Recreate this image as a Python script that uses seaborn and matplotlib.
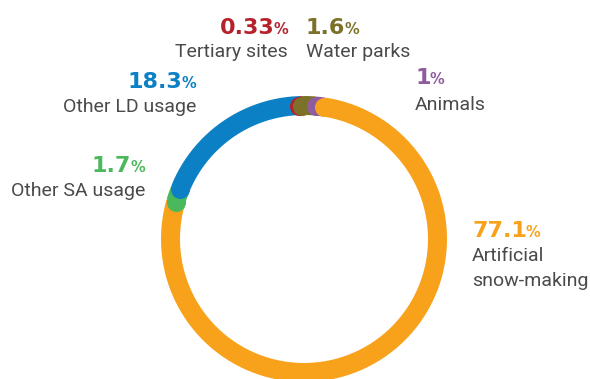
import numpy as np
import matplotlib
matplotlib.use("Agg")
import matplotlib.pyplot as plt
import seaborn as sns

# Water use by category, in percent
categories = ["Tertiary sites", "Water parks", "Animals",
              "Artificial\nsnow-making", "Other SA usage", "Other LD usage"]
shares = [0.33, 1.6, 1.0, 77.1, 1.7, 18.3]
share_labels = ["0.33", "1.6", "1", "77.1", "1.7", "18.3"]
colors = ["#b5222b", "#7b7128", "#8f5c9e", "#f8a11b", "#4cb85c", "#0b80c4"]

sns.set_theme(style="white")
plt.rcParams["font.family"] = ["Roboto", "DejaVu Sans"]

W, H = 590, 379
fig = plt.figure(figsize=(W / 100, H / 100), dpi=100)

# ring geometry in pixels (origin top-left)
cx, cy = 304, 239
rmax = 150
ax = fig.add_axes([(cx - rmax) / W, (H - cy - rmax) / H, 2 * rmax / W, 2 * rmax / H],
                  projection="polar")
ax.set_theta_zero_location("N")
ax.set_theta_direction(-1)
ax.set_ylim(0, rmax)
ax.set_axis_off()

r_mid = 133.5
band_pt = 19 * 72 / 100
start = np.deg2rad(-2.0)
frac = np.array(shares) / sum(shares)
edges = start + 2 * np.pi * np.concatenate([[0], np.cumsum(frac)])

for c, a0, a1 in zip(colors, edges[:-1], edges[1:]):
    t = np.linspace(a0, a1, 300)
    ax.plot(t, np.full_like(t, r_mid), color=c, lw=band_pt,
            solid_capstyle="butt", clip_on=False)
# rounded start caps, each laid over the end of the previous segment
for c, a0 in zip(colors, edges[:-1]):
    ax.plot([a0], [r_mid], "o", color=c, ms=band_pt, mew=0, clip_on=False)

renderer = fig.canvas.get_renderer()
text_color = "#4a4a4a"
num_kw = dict(family=["DejaVu Sans"], weight="bold", fontsize=16, va="baseline")
pct_kw = dict(family=["DejaVu Sans"], weight="bold", fontsize=10.5, va="baseline")
lab_kw = dict(fontsize=14, color=text_color, va="baseline")


def fx(x):
    return x / W


def fy(y):
    return 1 - y / H


def share_text(x, y, num, color, ha):
    if ha == "right":
        p = fig.text(fx(x), fy(y), "%", ha="right", color=color, **pct_kw)
        bb = p.get_window_extent(renderer)
        fig.text(fx(bb.x0 + 1), fy(y), num, ha="right", color=color, **num_kw)
    else:
        n = fig.text(fx(x), fy(y), num, ha="left", color=color, **num_kw)
        bb = n.get_window_extent(renderer)
        fig.text(fx(bb.x1 - 1), fy(y), "%", ha="left", color=color, **pct_kw)


# (x, number baseline, label baseline, alignment)
layout = [
    (288, 34, 57, "right"),
    (306, 34, 57, "left"),
    (415, 84, 110, "left"),
    (472, 237, 261, "left"),
    (145, 172, 196, "right"),
    (196, 88, 112, "right"),
]

for cat, lab, c, (x, yn, yl, ha) in zip(categories, share_labels, colors, layout):
    share_text(x, yn, lab, c, ha)
    for i, line in enumerate(cat.split("\n")):
        fig.text(fx(x), fy(yl + 25 * i), line, ha=ha, **lab_kw)

fig.savefig("out.png", dpi=100)
